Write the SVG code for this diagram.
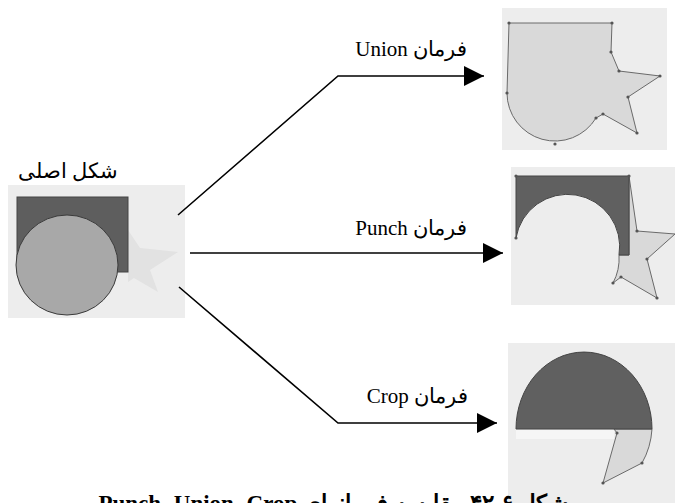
<svg xmlns="http://www.w3.org/2000/svg" width="675" height="503" viewBox="0 0 675 503">
<defs>
<style>
.bg{fill:#ededed}
.dark{fill:#606060;stroke:#444;stroke-width:1}
.light{fill:#d9d9d9;stroke:#6a6a6a;stroke-width:1}
.dot{fill:#555}
.lbl{font-family:"Liberation Serif","DejaVu Serif",serif;font-size:21px;fill:#000}
.cap{font-family:"Liberation Serif","DejaVu Serif",serif;font-size:23px;font-weight:bold;fill:#000}
.ln{fill:none;stroke:#000;stroke-width:1.6}
</style>
<marker id="ah" viewBox="0 0 10 10" refX="10" refY="5" markerWidth="20" markerHeight="20" markerUnits="userSpaceOnUse" orient="auto">
<path d="M0,0 L10,5 L0,10 z" fill="#000"/>
</marker>
</defs>
<rect width="675" height="503" fill="#fff"/>

<g id="original">
<rect class="bg" x="8" y="185" width="177" height="133"/>
<polygon points="128,230 140,248 178,252 150,270 158,292 134,278 128,282" fill="#e2e2e2"/>
<rect x="17" y="197" width="111" height="75" fill="#5e5e5e" stroke="#444" stroke-width="1"/>
<ellipse cx="67" cy="265" rx="51" ry="50" fill="#a8a8a8" stroke="#3a3a3a" stroke-width="1"/>
<text class="lbl" x="118" y="178" direction="rtl" text-anchor="start">شکل اصلی</text>
</g>

<g id="union">
<rect class="bg" x="502" y="8" width="165" height="142"/>
<path class="light" d="M509,23 L612,23 L611,52 L619,71 L660,76 L628,97 L637,133 L603,114 L596,118 A48,48 0 0 1 507,93 Z"/>
<g class="dot">
<circle cx="509" cy="23" r="1.6"/><circle cx="612" cy="23" r="1.6"/><circle cx="611" cy="52" r="1.6"/>
<circle cx="619" cy="71" r="1.6"/><circle cx="660" cy="76" r="1.6"/><circle cx="628" cy="97" r="1.6"/>
<circle cx="637" cy="133" r="1.6"/><circle cx="603" cy="114" r="1.6"/><circle cx="596" cy="118" r="1.6"/>
<circle cx="555" cy="144" r="1.6"/><circle cx="507" cy="93" r="1.6"/>
</g>
<text class="lbl" x="467" y="56" direction="rtl" text-anchor="start">فرمان Union</text>
</g>

<g id="punch">
<rect class="bg" x="511" y="167" width="164" height="138"/>
<path class="light" d="M629,176 L637,231 L675,234 L647,259 L657,298 L621,277 L613,283 A52,52 0 0 0 619,255 L629,255 Z"/>
<path class="dark" d="M516,176 L629,176 L629,255 L619,255 A52,52 0 0 0 516,238 Z"/>
<g class="dot">
<circle cx="516" cy="176" r="1.6"/><circle cx="629" cy="176" r="1.6"/><circle cx="637" cy="231" r="1.6"/>
<circle cx="647" cy="259" r="1.6"/><circle cx="657" cy="298" r="1.6"/><circle cx="621" cy="277" r="1.6"/>
<circle cx="613" cy="283" r="1.6"/><circle cx="516" cy="238" r="1.6"/>
</g>
<text class="lbl" x="467" y="235" direction="rtl" text-anchor="start">فرمان  Punch</text>
</g>

<g id="crop">
<rect class="bg" x="508" y="343" width="167" height="160"/>
<path class="light" d="M614,429 L617,433 L603,483 L642,463 A60,70 0 0 0 652,429 Z"/>
<path class="dark" d="M516,429 A68,77 0 0 1 652,429 Z"/>
<rect x="516" y="430" width="98" height="9" fill="#f6f6f6"/>
<g class="dot">
<circle cx="617" cy="433" r="1.6"/><circle cx="603" cy="483" r="1.6"/><circle cx="642" cy="463" r="1.6"/>
</g>
<text class="lbl" x="468" y="403" direction="rtl" text-anchor="start">فرمان Crop</text>
</g>

<g id="connectors">
<polyline class="ln" points="178,215 338,76 484,76" marker-end="url(#ah)"/>
<line class="ln" x1="190" y1="253" x2="503" y2="253" marker-end="url(#ah)"/>
<polyline class="ln" points="179,287 338,423 497,423" marker-end="url(#ah)"/>
</g>

<text class="cap" x="568" y="511" direction="rtl" text-anchor="start">شکل ۶-۴۲ مقایسه فرمانهای Punch، Union، Crop</text>
</svg>
